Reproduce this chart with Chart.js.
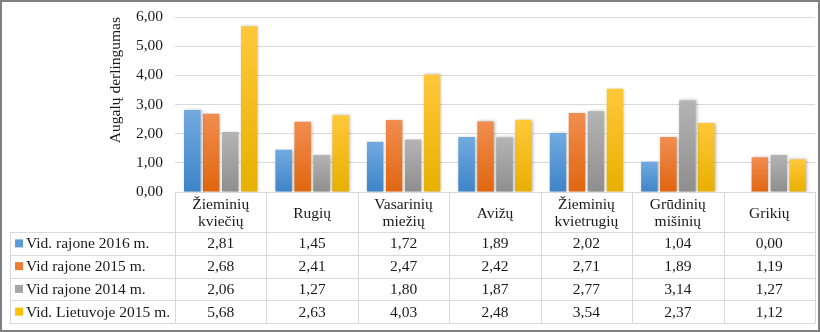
<!DOCTYPE html>
<html>
<head>
<meta charset="utf-8">
<script src="https://cdn.jsdelivr.net/npm/chart.js@4/dist/chart.umd.min.js"></script>
<style>
  html, body { margin: 0; padding: 0; background: #fff; }
  #wrap { width: 820px; height: 332px; position: relative; }
</style>
</head>
<body>
<div id="wrap"><canvas id="c" width="820" height="332"></canvas></div>
<script>
// ---- data ----
const categories = [['Žieminių', 'kviečių'], ['Rugių'], ['Vasarinių', 'miežių'], ['Avižų'], ['Žieminių', 'kvietrugių'], ['Grūdinių', 'mišinių'], ['Grikių']];
const seriesNames = ['Vid. rajone 2016 m.', 'Vid rajone 2015 m.', 'Vid rajone 2014 m.', 'Vid. Lietuvoje 2015 m.'];
const rajone2016 = [2.81, 1.45, 1.72, 1.89, 2.02, 1.04, 0.00];
const rajone2015 = [2.68, 2.41, 2.47, 2.42, 2.71, 1.89, 1.19];
const rajone2014 = [2.06, 1.27, 1.80, 1.87, 2.77, 3.14, 1.27];
const lietuvoje2015 = [5.68, 2.63, 4.03, 2.48, 3.54, 2.37, 1.12];
const yTicks = [0, 1, 2, 3, 4, 5, 6];
const yTitle = 'Augalų derlingumas';

// ---- styles ----
const baseColors = ['#5B9BD5', '#ED7D31', '#A5A5A5', '#FFC000'];
const topColors = ['#72AADF', '#F18D50', '#B4B4B4', '#FFC83A'];
const botColors = ['#3E84C8', '#E0660F', '#8E8E8E', '#E8B000'];
const FONT = '"Liberation Serif", "Times New Roman", serif';
const FS = 15.5;
const TXT = '#1a1a1a';
const fmt = v => v.toFixed(2).replace('.', ',');

function gradFor(i) {
  return (ctx) => {
    const chart = ctx.chart;
    const ys = chart.scales && chart.scales.y;
    if (!ys || ctx.raw === undefined || !chart.chartArea) return baseColors[i];
    const top = ys.getPixelForValue(ctx.raw);
    const bot = ys.getPixelForValue(0);
    if (!(bot - top > 1)) return baseColors[i];
    const g = chart.ctx.createLinearGradient(0, top, 0, bot);
    g.addColorStop(0, topColors[i]);
    g.addColorStop(1, botColors[i]);
    return g;
  };
}

const seriesData = [rajone2016, rajone2015, rajone2014, lietuvoje2015];

const shadowPlugin = {
  id: 'shadow',
  beforeDatasetsDraw(chart) {
    const c = chart.ctx;
    c.save();
    c.shadowColor = 'rgba(0,0,0,0.28)';
    c.shadowBlur = 3;
    c.shadowOffsetX = 1;
    c.shadowOffsetY = 0;
  },
  afterDatasetsDraw(chart) { chart.ctx.restore(); }
};

const tablePlugin = {
  id: 'dataTable',
  afterDraw(chart) {
    const c = chart.ctx;
    const xs = chart.scales.x;
    const area = chart.chartArea;
    const n = categories.length;
    const cw = (area.right - area.left) / n;
    const tTop = area.bottom;
    const hdrBot = tTop + 40;
    const rowH = 22.75;
    const tBot = hdrBot + rowH * seriesNames.length;
    const legLeft = 10;
    c.save();
    c.strokeStyle = '#d9d9d9';
    c.lineWidth = 1;
    c.beginPath();
    for (let i = 0; i <= n; i++) {
      const x = Math.round(area.left + i * cw) + 0.5;
      c.moveTo(x, tTop); c.lineTo(x, tBot);
    }
    c.moveTo(area.left, tTop + 0.5); c.lineTo(area.right, tTop + 0.5);
    for (let r = 0; r <= seriesNames.length; r++) {
      const y = Math.round(hdrBot + r * rowH) + 0.5;
      c.moveTo(legLeft, y); c.lineTo(area.right, y);
    }
    c.moveTo(legLeft + 0.5, hdrBot); c.lineTo(legLeft + 0.5, tBot);
    c.stroke();

    c.fillStyle = TXT;
    c.font = FS + 'px ' + FONT;
    c.textAlign = 'center';
    c.textBaseline = 'middle';
    chart.data.labels.forEach((lab, i) => {
      const cx = xs.getPixelForValue(i);
      const lines = Array.isArray(lab) ? lab : [lab];
      const lh = 16.5;
      const mid = (tTop + hdrBot) / 2 + 1.5;
      lines.forEach((ln, k) => {
        c.fillText(ln, cx, mid + (k - (lines.length - 1) / 2) * lh);
      });
    });
    chart.data.datasets.forEach((ds, r) => {
      const cy = hdrBot + (r + 0.5) * rowH + 1;
      c.fillStyle = baseColors[r];
      c.fillRect(legLeft + 5, cy - 5, 8, 8);
      c.fillStyle = TXT;
      c.textAlign = 'left';
      c.fillText(ds.label, legLeft + 16, cy);
      c.textAlign = 'center';
      ds.data.forEach((v, i) => {
        c.fillText(fmt(v), xs.getPixelForValue(i), cy);
      });
    });
    c.strokeStyle = '#808080';
    c.lineWidth = 2;
    c.strokeRect(1, 1, 818, 330);
    c.restore();
  }
};

new Chart(document.getElementById('c'), {
  type: 'bar',
  data: {
    labels: categories,
    datasets: seriesNames.map((name, i) => ({
      label: name,
      data: seriesData[i],
      backgroundColor: gradFor(i),
      borderWidth: 0,
      categoryPercentage: 0.83,
      barPercentage: 0.87
    }))
  },
  options: {
    responsive: false,
    animation: false,
    devicePixelRatio: 1,
    layout: { padding: { left: 107, right: 5, top: 17, bottom: 140 } },
    plugins: { legend: { display: false }, tooltip: { enabled: false } },
    scales: {
      x: {
        ticks: { display: false },
        grid: { display: false },
        border: { display: false },
        afterFit(scale) { scale.height = 0; }
      },
      y: {
        min: 0, max: 6,
        afterBuildTicks(scale) { scale.ticks = yTicks.map(v => ({ value: v })); },
        afterFit(scale) { scale.width = 68; scale.paddingTop = 0; scale.paddingBottom = 0; },
        ticks: {
          padding: 12,
          color: TXT,
          font: { family: FONT, size: FS },
          callback: v => fmt(v)
        },
        grid: { color: '#d9d9d9', drawTicks: false, lineWidth: 1 },
        border: { display: false },
        title: {
          display: true,
          text: yTitle,
          align: 'end',
          color: TXT,
          padding: 0,
          font: { family: FONT, size: FS }
        }
      }
    }
  },
  plugins: [shadowPlugin, tablePlugin]
});
</script>
</body>
</html>
